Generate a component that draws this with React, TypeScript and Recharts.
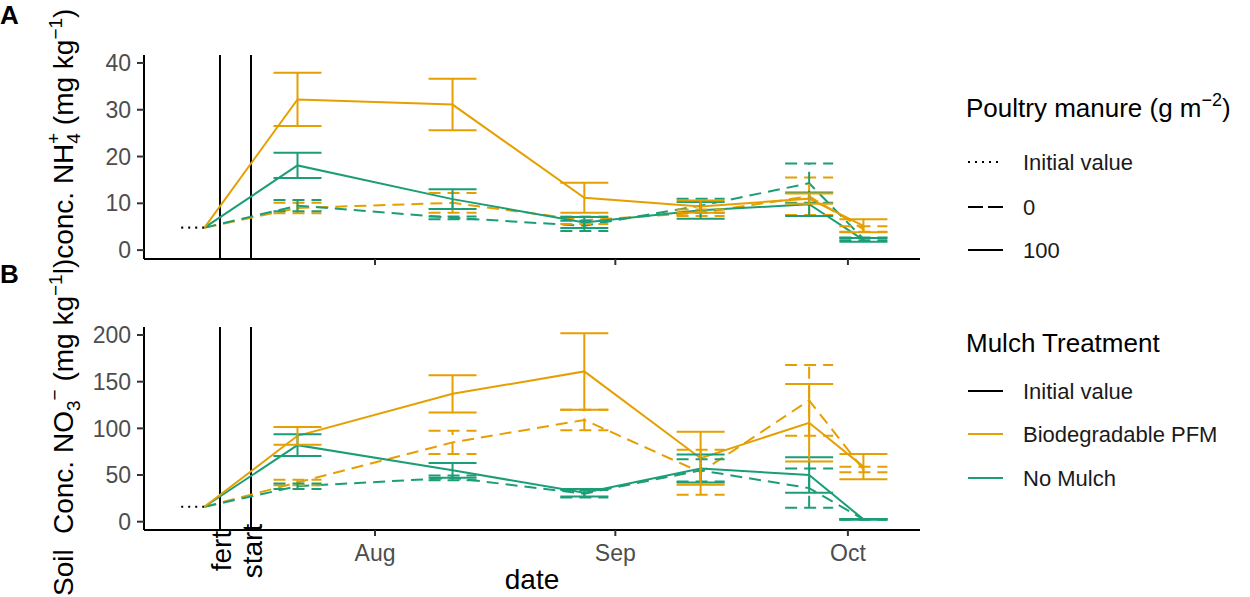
import { LineChart, Line, XAxis, YAxis, ErrorBar, ReferenceLine } from 'recharts';

/* ------------------------------------------------------------------ */
/*  data (x = days since 1 July)                                       */
/* ------------------------------------------------------------------ */
const sampleDays = [21, 41, 58, 73, 87, 94];
const initialDays = [6, 9];
const fertDay = 11;
const startDay = 15;
const monthTicks = [31, 62, 92];
const monthLabels = ['Aug', 'Sep', 'Oct'];

const nh4Ticks = [0, 10, 20, 30, 40];
const no3Ticks = [0, 50, 100, 150, 200];

// Panel A: NH4+
const nh4Initial = 4.8;
const nh4Pfm100 = [32.2, 31.1, 11.2, 9.3, 11.0, 5.2];
const nh4Pfm100Err = [5.7, 5.5, 3.2, 1.3, 1.1, 1.4];
const nh4Pfm0 = [9.0, 10.1, 6.4, 8.0, 11.5, 4.5];
const nh4Pfm0Err = [1.1, 2.1, 0.8, 0.7, 4.0, 0.6];
const nh4No100 = [18.1, 10.9, 5.9, 8.5, 9.8, 2.2];
const nh4No100Err = [2.7, 2.1, 1.2, 1.8, 2.5, 0.4];
const nh4No0 = [9.5, 6.9, 5.2, 9.5, 14.3, 2.4];
const nh4No0Err = [1.2, 0.3, 1.1, 1.5, 4.2, 0.3];

// Panel B: NO3-
const no3Initial = 16;
const no3Pfm100 = [92, 137, 161, 68, 106, 59];
const no3Pfm100Err = [9.5, 20, 41, 28.5, 41.5, 13.5];
const no3Pfm0 = [42, 85, 109, 53, 130, 56];
const no3Pfm0Err = [3, 12.5, 11, 24, 38, 3];
const no3No100 = [82, 55, 31, 57, 50, 2.5];
const no3No100Err = [11.6, 8, 4, 15, 19, 0.5];
const no3No0 = [38, 47, 30, 55, 36, 2.5];
const no3No0Err = [3, 2.5, 4, 12, 21, 0.5];

const ORANGE = '#E69F00';
const GREEN = '#1B9E77';
const DASH = '12 7';
const FONT = "'Liberation Sans', Arial, sans-serif";

interface SeriesDef {
  color: string;
  dashed: boolean;
  values: number[];
  errs: number[];
}

const rows = (values: number[], errs: number[]) =>
  sampleDays.map((d, i) => ({ d, v: values[i], err: errs[i] }));

const refLabel = (text: string) => (props: any) => {
  const vb = props.viewBox || {};
  const x = (vb.x ?? 0) + 11;
  const y = (vb.y ?? 0) + (vb.height ?? 0) + 21;
  return (
    <text
      x={0}
      y={0}
      transform={`translate(${x},${y}) rotate(-90)`}
      textAnchor="middle"
      fontSize={28}
      fill="#000"
      fontFamily={FONT}
    >
      {text}
    </text>
  );
};

function Panel({
  height,
  margin,
  xAxisHeight,
  yDomain,
  yTicks,
  initial,
  series,
  showLabels,
}: {
  height: number;
  margin: { top: number; right: number; bottom: number; left: number };
  xAxisHeight: number;
  yDomain: [number, number];
  yTicks: number[];
  initial: number;
  series: SeriesDef[];
  showLabels: boolean;
}) {
  const initRows = initialDays.map((d) => ({ d, v: initial }));
  return (
    <LineChart width={930} height={height} margin={margin} style={{ fontFamily: FONT }}>
      <XAxis
        type="number"
        dataKey="d"
        domain={[1.2, 101.3]}
        allowDataOverflow
        ticks={monthTicks}
        tickFormatter={(v: number) => (showLabels ? monthLabels[monthTicks.indexOf(v)] : '')}
        height={xAxisHeight}
        axisLine={{ stroke: '#000', strokeWidth: 2 }}
        tickLine={{ stroke: '#333', strokeWidth: 2 }}
        tickSize={6}
        tickMargin={9}
        tick={{ fill: '#4D4D4D', fontSize: 23 }}
      />
      <YAxis
        type="number"
        dataKey="v"
        domain={yDomain}
        allowDataOverflow
        ticks={yTicks}
        width={40}
        axisLine={{ stroke: '#000', strokeWidth: 2 }}
        tickLine={{ stroke: '#333', strokeWidth: 2 }}
        tickSize={7}
        tickMargin={6}
        tick={{ fill: '#4D4D4D', fontSize: 23 }}
      />
      <ReferenceLine
        x={fertDay}
        stroke="#000"
        strokeWidth={2}
        label={showLabels ? refLabel('fert') : undefined}
      />
      <ReferenceLine
        x={startDay}
        stroke="#000"
        strokeWidth={2}
        label={showLabels ? refLabel('start') : undefined}
      />
      <Line
        data={initRows}
        dataKey="v"
        stroke="#000"
        strokeWidth={2.2}
        strokeDasharray="2 5"
        dot={false}
        activeDot={false}
        isAnimationActive={false}
      />
      {series.map((s, i) => (
        <Line
          key={`l${i}`}
          data={[{ d: initialDays[1], v: initial }, ...rows(s.values, s.errs)]}
          dataKey="v"
          stroke={s.color}
          strokeWidth={2}
          strokeDasharray={s.dashed ? DASH : undefined}
          dot={false}
          activeDot={false}
          isAnimationActive={false}
        />
      ))}
      {series.map((s, i) => (
        <Line
          key={`e${i}`}
          data={rows(s.values, s.errs)}
          dataKey="v"
          stroke="none"
          dot={false}
          activeDot={false}
          isAnimationActive={false}
        >
          <ErrorBar
            dataKey="err"
            direction="y"
            width={24}
            stroke={s.color}
            strokeWidth={2}
            strokeDasharray={s.dashed ? DASH : undefined}
            isAnimationActive={false}
          />
        </Line>
      ))}
    </LineChart>
  );
}

function Legends() {
  const item = (y: number, label: string, color: string, dash?: string) => (
    <g key={label + y}>
      <line x1={968} x2={1003} y1={y} y2={y} stroke={color} strokeWidth={2.2} strokeDasharray={dash} />
      <text x={1023} y={y + 8} fontSize={22} fill="#1a1a1a">
        {label}
      </text>
    </g>
  );
  return (
    <g fontFamily={FONT}>
      <text x={966} y={117} fontSize={26} fill="#000">
        Poultry manure (g m
        <tspan fontSize={18} dy={-11}>−2</tspan>
        <tspan dy={11}>)</tspan>
      </text>
      {item(162, 'Initial value', '#000', '2 5')}
      {item(207, '0', '#000', '15 5')}
      {item(250, '100', '#000')}
      <text x={966} y={352} fontSize={26} fill="#000">
        Mulch Treatment
      </text>
      {item(391, 'Initial value', '#000')}
      {item(434, 'Biodegradable PFM', ORANGE)}
      {item(478, 'No Mulch', GREEN)}
    </g>
  );
}

function Titles() {
  return (
    <g fontFamily={FONT} fill="#000">
      <text x={0} y={24} fontSize={26} fontWeight="bold">A</text>
      <text x={0} y={283} fontSize={26} fontWeight="bold">B</text>
      <text x={532} y={589} fontSize={28} textAnchor="middle">date</text>
      <text transform="translate(73,596) rotate(-90)" fontSize={28}>Soil</text>
      <text transform="translate(73,534) rotate(-90)" fontSize={28}>
        {'Conc. NO'}
        <tspan fontSize={19} dy={7}>3</tspan>
        <tspan fontSize={19} dy={-19}>−</tspan>
        <tspan dy={12}>{' (mg kg'}</tspan>
        <tspan fontSize={19} dy={-11}>−1</tspan>
        <tspan dy={11}>{'l)conc. NH'}</tspan>
        <tspan fontSize={19} dy={7}>4</tspan>
        <tspan fontSize={19} dx={-11} dy={-20}>+</tspan>
        <tspan dy={13}>{' (mg kg'}</tspan>
        <tspan fontSize={19} dy={-11}>−1</tspan>
        <tspan dy={11}>)</tspan>
      </text>
    </g>
  );
}

export default function App() {
  const nh4Series: SeriesDef[] = [
    { color: ORANGE, dashed: true, values: nh4Pfm0, errs: nh4Pfm0Err },
    { color: GREEN, dashed: true, values: nh4No0, errs: nh4No0Err },
    { color: GREEN, dashed: false, values: nh4No100, errs: nh4No100Err },
    { color: ORANGE, dashed: false, values: nh4Pfm100, errs: nh4Pfm100Err },
  ];
  const no3Series: SeriesDef[] = [
    { color: ORANGE, dashed: true, values: no3Pfm0, errs: no3Pfm0Err },
    { color: GREEN, dashed: true, values: no3No0, errs: no3No0Err },
    { color: GREEN, dashed: false, values: no3No100, errs: no3No100Err },
    { color: ORANGE, dashed: false, values: no3Pfm100, errs: no3Pfm100Err },
  ];

  return (
    <div
      style={{
        position: 'absolute',
        left: 0,
        top: 0,
        width: 1250,
        height: 597,
        background: '#fff',
        fontFamily: FONT,
        overflow: 'hidden',
      }}
    >
      <svg width={1250} height={597} style={{ position: 'absolute', left: 0, top: 0 }}>
        <Titles />
        <Legends />
      </svg>
      <div style={{ position: 'absolute', left: 0, top: 0 }}>
        <Panel
          height={300}
          margin={{ top: 55, right: 10, bottom: 11, left: 104 }}
          xAxisHeight={30}
          yDomain={[-1.9, 41.7]}
          yTicks={nh4Ticks}
          initial={nh4Initial}
          series={nh4Series}
          showLabels={false}
        />
      </div>
      <div style={{ position: 'absolute', left: 0, top: 270 }}>
        <Panel
          height={327}
          margin={{ top: 57, right: 10, bottom: 27, left: 104 }}
          xAxisHeight={40}
          yDomain={[-8.9, 208.6]}
          yTicks={no3Ticks}
          initial={no3Initial}
          series={no3Series}
          showLabels={true}
        />
      </div>
    </div>
  );
}
